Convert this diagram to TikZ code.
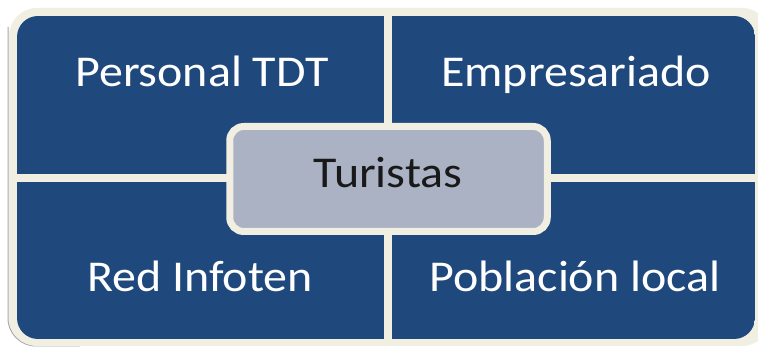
\documentclass[tikz,border=0pt]{standalone}
\usepackage{fontspec}
\setmainfont[FakeStretch=1.09]{Carlito}
\definecolor{qblue}{HTML}{1F497D}
\definecolor{cream}{HTML}{F1EEE2}
\definecolor{cgray}{HTML}{AAB2C3}
\begin{document}
\begin{tikzpicture}[x=1pt,y=1pt,
  qtext/.style={text=white,font=\fontsize{44}{50}\selectfont,anchor=base,inner sep=0pt},
  ctext/.style={text=black!90,font=\fontsize{44}{50}\selectfont,anchor=base,inner sep=0pt},
  centerbox/.style={draw=cream,line width=7pt,fill=cgray,rounded corners=14pt,
    minimum width=317.5pt,minimum height=105pt,inner sep=0pt}]
\useasboundingbox (0,0) rectangle (758,347);
\fill[white] (0,0) rectangle (758,347);
% shadow on the left and bottom-left, then cream frame
\draw[gray!70,line width=1pt,rounded corners=28pt] (8,320) -- (8,1) -- (80,1);
\fill[cream] (9,1) [rounded corners=28pt] rectangle (770,339);
% blue quadrants
\begin{scope}
  \clip[rounded corners=21pt] (17,8) rectangle (755,331);
  \fill[qblue] (17,173) rectangle (384,331);
  \fill[qblue] (392,173) rectangle (755,331);
  \fill[qblue] (17,8) rectangle (384,165);
  \fill[qblue] (392,8) rectangle (755,165);
\end{scope}
% texts
\node[qtext] (personal) at (202,260) {Personal TDT};
\node[qtext] (empresa) at (576,260) {Empresariado};
\node[qtext] (red) at (200,55) {Red Infoten};
\node[qtext] (poblacion) at (575,55) {Población local};
% center
\node[centerbox] (box) at (388.5,168) {};
\node[ctext] (turistas) at (388,159) {Turistas};
\end{tikzpicture}
\end{document}
